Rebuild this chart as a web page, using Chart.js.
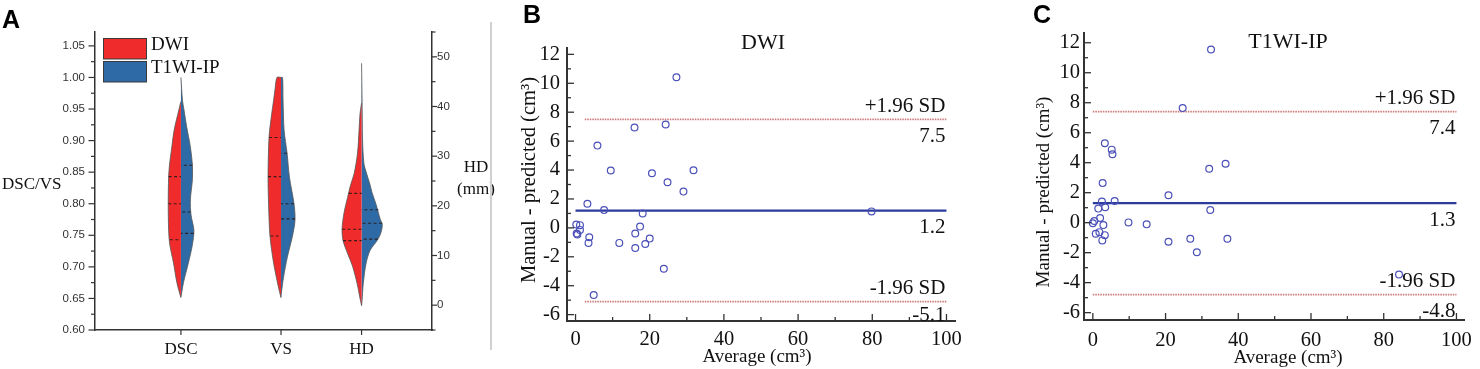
<!DOCTYPE html>
<html>
<head>
<meta charset="utf-8">
<script src="https://cdn.jsdelivr.net/npm/chart.js@4.4.1/dist/chart.umd.min.js"></script>
<style>
  body { margin: 0; background: #fff; }
  #wrap { position: relative; width: 1480px; height: 369px; overflow: hidden; }
  canvas { position: absolute; top: 0; }
  .tag { position: absolute; font: bold 25px "Liberation Sans", Arial, sans-serif; line-height: 25px; color: #000; }
  #sep { position: absolute; left: 490px; top: 22px; width: 1.5px; height: 328px; background: #d0d0d0; }
</style>
</head>
<body>
<div id="wrap">
  <canvas id="violin" width="498" height="369" style="left:0"></canvas>
  <canvas id="baDwi" width="485" height="369" style="left:491px"></canvas>
  <canvas id="baT1" width="504" height="369" style="left:976px"></canvas>
  <div id="sep"></div>
  <div class="tag" style="left:2px;top:7px">A</div>
  <div class="tag" style="left:523px;top:2px">B</div>
  <div class="tag" style="left:1033px;top:2px">C</div>
</div>
<script>
const SERIF = '"Liberation Serif", "Times New Roman", serif';
const SANS = '"Liberation Sans", Arial, sans-serif';

// ---------- panel A : split violins ----------
const categories = ['DSC', 'VS', 'HD'];
const catPos = [2.55, 5.52, 7.91];
const groups = ['DWI', 'T1WI-IP'];
const groupColors = ['#EF2B2B', '#2E6BA6'];

// outline of each half: [value, half width]
const dscDwi = [[0.651,0],[0.675,0.12],[0.706,0.22],[0.735,0.33],[0.758,0.365],[0.801,0.377],[0.842,0.365],[0.861,0.34],[0.890,0.27],[0.917,0.2],[0.949,0.06],[0.962,0]];
const dscT1 = [[0.652,0],[0.675,0.075],[0.706,0.22],[0.735,0.34],[0.758,0.385],[0.782,0.30],[0.806,0.28],[0.838,0.34],[0.861,0.34],[0.890,0.28],[0.922,0.17],[0.949,0.09],[0.964,0.045],[1.000,0]];
const vsDwi = [[0.651,0],[0.671,0.09],[0.703,0.21],[0.735,0.30],[0.758,0.34],[0.801,0.37],[0.842,0.385],[0.906,0.355],[0.941,0.28],[0.964,0.22],[0.980,0.18],[1.000,0.12]];
const vsT1 = [[0.652,0],[0.660,0.015],[0.684,0.075],[0.716,0.19],[0.749,0.34],[0.774,0.415],[0.800,0.385],[0.842,0.25],[0.880,0.18],[0.917,0.09],[0.964,0.06],[1.000,0.045]];
const hdDwi = [[-0.1,0],[1.5,0.05],[4.3,0.13],[7.9,0.27],[10.4,0.415],[13.0,0.55],[15.2,0.58],[18.6,0.52],[21.7,0.415],[24.1,0.33],[26.5,0.22],[30.6,0.12],[35.2,0.075],[38.6,0.045],[40.7,0]];
const hdT1 = [[-0.1,0],[0.9,0.015],[4.3,0.05],[8.3,0.13],[11.0,0.25],[13.0,0.46],[14.4,0.565],[16.2,0.615],[17.4,0.55],[20.3,0.43],[22.7,0.31],[24.4,0.245],[26.5,0.15],[28.5,0.07],[33.2,0.03],[41.3,0.015],[48.7,0]];

// quartile lines: [value, half width]
const dscDwiQ = [[0.743,0.33],[0.800,0.377],[0.843,0.365]];
const dscT1Q = [[0.753,0.375],[0.787,0.29],[0.861,0.34]];
const vsDwiQ = [[0.749,0.32],[0.843,0.385],[0.905,0.355]];
const vsT1Q = [[0.776,0.415],[0.800,0.385],[0.880,0.18]];
const hdDwiQ = [[13.0,0.55],[15.3,0.58],[22.5,0.38]];
const hdT1Q = [[13.3,0.48],[16.5,0.61],[19.2,0.5]];

const leftTicks = [0.60, 0.65, 0.70, 0.75, 0.80, 0.85, 0.90, 0.95, 1.00, 1.05];
const leftMinor = [0.625, 0.675, 0.725, 0.775, 0.825, 0.875, 0.925, 0.975, 1.025];
const rightTicks = [0, 10, 20, 30, 40, 50];
const rightMinor = [-5, 5, 15, 25, 35, 45, 55];

// ---------- panels B, C : Bland-Altman ----------
const bAvg = [27.2, 15.9, 24.3, 5.9, 9.5, 20.6, 31.8, 24.8, 29.1, 3.2, 7.7, 18.1, 79.8, 0.2, 1.2, 1.2, 0.3, 0.5, 17.4, 16.1, 3.7, 3.5, 11.8, 20.0, 18.8, 16.1, 23.8, 4.9];
const bDiff = [10.42, 6.94, 7.15, 5.69, 3.97, 3.78, 3.99, 3.16, 2.51, 1.67, 1.23, 1.0, 1.14, 0.23, 0.19, -0.14, -0.39, -0.46, 0.09, -0.39, -0.65, -1.04, -1.04, -0.74, -1.11, -1.39, -2.83, -4.64];
const bStats = [-5.1, 1.2, 7.5]; // lower, mean, upper

const cAvg = [32.5, 24.7, 3.3, 5.2, 5.4, 32.0, 36.5, 2.7, 20.8, 6.0, 2.5, 1.5, 3.4, 32.3, 2.0, 0.4, 0, 2.9, 9.8, 14.8, 0.8, 1.8, 3.3, 2.6, 20.8, 26.8, 37.0, 28.6, 84.2];
const cDiff = [11.55, 7.64, 5.30, 4.87, 4.56, 3.60, 3.93, 2.64, 1.83, 1.45, 1.41, 0.94, 1.03, 0.85, 0.31, 0.11, -0.04, -0.16, 0.02, -0.11, -0.74, -0.63, -0.83, -1.18, -1.27, -1.07, -1.07, -1.97, -3.46];
const cStats = [-4.8, 1.3, 7.4];

const baXTicks = [0, 20, 40, 60, 80, 100];
const baXMinor = [10, 30, 50, 70, 90];
const baYTicks = [-6, -4, -2, 0, 2, 4, 6, 8, 10, 12];
const baYMinor = [-5, -3, -1, 1, 3, 5, 7, 9, 11];

// ---------- plugins ----------
const tickMarks = {
  id: 'tickMarks',
  afterDraw(chart, args, opts) {
    const ctx = chart.ctx;
    ctx.save();
    ctx.strokeStyle = opts.color || '#333';
    ctx.lineWidth = opts.width || 1;
    (opts.axes || []).forEach(a => {
      const s = chart.scales[a.id];
      const horiz = s.isHorizontal();
      let base, sign;
      if (s.position === 'left') { base = s.right; sign = -1; }
      else if (s.position === 'right') { base = s.left; sign = 1; }
      else { base = s.top; sign = 1; }
      if (a.inward) sign = -sign;
      const draw = (vals, len) => vals.forEach(v => {
        const p = s.getPixelForValue(v);
        ctx.beginPath();
        if (horiz) { ctx.moveTo(p, base); ctx.lineTo(p, base + sign * len); }
        else { ctx.moveTo(base, p); ctx.lineTo(base + sign * len, p); }
        ctx.stroke();
      });
      draw(a.major, a.majorLen);
      draw(a.minor || [], a.minorLen);
    });
    ctx.restore();
  }
};

const panelText = {
  id: 'panelText',
  afterDraw(chart, args, opts) {
    const ctx = chart.ctx;
    (opts.items || []).forEach(t => {
      ctx.save();
      ctx.font = t.font;
      ctx.fillStyle = t.color || '#111';
      ctx.textAlign = t.align || 'center';
      ctx.textBaseline = 'middle';
      ctx.translate(t.x, t.y);
      if (t.rotate) ctx.rotate(t.rotate);
      ctx.fillText(t.text, 0, 0);
      ctx.restore();
    });
  }
};

const violinLegend = {
  id: 'violinLegend',
  afterDraw(chart) {
    const ctx = chart.ctx;
    ctx.save();
    groups.forEach((g, i) => {
      const top = 38.5 + i * 23;
      ctx.fillStyle = groupColors[i];
      ctx.fillRect(103.5, top, 43, 20.5);
      ctx.strokeStyle = '#3a3a3a';
      ctx.lineWidth = 1;
      ctx.strokeRect(103.5, top, 43, 20.5);
      ctx.fillStyle = '#111';
      ctx.font = '19px ' + SERIF;
      ctx.textAlign = 'left';
      ctx.textBaseline = 'middle';
      ctx.fillText(g, 151, top + 6.5);
    });
    ctx.restore();
  }
};

const limitLabels = {
  id: 'limitLabels',
  afterDatasetsDraw(chart, args, opts) {
    const {ctx, scales: {x, y}} = chart;
    const [lower, mean, upper] = opts.values;
    const right = x.getPixelForValue(100) - 1;
    ctx.save();
    ctx.font = '21px ' + SERIF;
    ctx.fillStyle = '#111';
    ctx.textAlign = 'right';
    ctx.textBaseline = 'middle';
    ctx.fillText('+1.96 SD', right, y.getPixelForValue(upper) - 13);
    ctx.fillText(upper.toFixed(1), right, y.getPixelForValue(upper) + 17);
    ctx.fillText(mean.toFixed(1), right, y.getPixelForValue(mean) + 17);
    ctx.fillText('-1.96 SD', right, y.getPixelForValue(lower) - 13);
    ctx.fillText(lower.toFixed(1), right, y.getPixelForValue(lower) + opts.lowerOffset);
    ctx.restore();
  }
};

// ---------- panel A ----------
function halfShape(profile, center, side) {
  const pts = profile.map(([v, w]) => ({x: center + side * w, y: v}));
  if (profile[0][1] > 0) pts.unshift({x: center, y: profile[0][0]});
  const last = profile[profile.length - 1];
  if (last[1] > 0) pts.push({x: center, y: last[0]});
  return pts;
}
function quartileLines(q, center, side) {
  const pts = [];
  q.forEach(([v, w]) => {
    pts.push({x: center + side * w, y: v}, {x: center, y: v}, {x: center, y: null});
  });
  return pts;
}

const halves = [
  {cat: 0, g: 0, prof: dscDwi, q: dscDwiQ, axis: 'y'},
  {cat: 0, g: 1, prof: dscT1, q: dscT1Q, axis: 'y'},
  {cat: 1, g: 0, prof: vsDwi, q: vsDwiQ, axis: 'y'},
  {cat: 1, g: 1, prof: vsT1, q: vsT1Q, axis: 'y'},
  {cat: 2, g: 0, prof: hdDwi, q: hdDwiQ, axis: 'y2'},
  {cat: 2, g: 1, prof: hdT1, q: hdT1Q, axis: 'y2'}
];

const violinSets = [];
halves.forEach(h => {
  const side = h.g === 0 ? -1 : 1;
  violinSets.push({
    data: halfShape(h.prof, catPos[h.cat], side),
    yAxisID: h.axis,
    backgroundColor: groupColors[h.g],
    borderColor: '#555',
    borderWidth: 0.8,
    fill: 'shape',
    tension: 0.3,
    pointRadius: 0,
    order: 2
  });
  violinSets.push({
    data: quartileLines(h.q, catPos[h.cat], side),
    yAxisID: h.axis,
    borderColor: 'rgba(40,25,25,0.9)',
    borderWidth: 1.1,
    borderDash: [3, 2.5],
    fill: false,
    tension: 0,
    pointRadius: 0,
    order: 1
  });
});

const axisA = { display: true, color: '#333', width: 1.5 };
const noGrid = { display: false, drawTicks: false };

new Chart(document.getElementById('violin'), {
  type: 'line',
  data: { datasets: violinSets },
  options: {
    responsive: false,
    animation: false,
    layout: { padding: { top: 32, left: 0, right: 0, bottom: 0 } },
    plugins: {
      legend: { display: false },
      tooltip: { enabled: false },
      tickMarks: {
        color: '#333', width: 1.2,
        axes: [
          { id: 'y', major: leftTicks, minor: leftMinor, majorLen: 6.5, minorLen: 4 },
          { id: 'y2', major: rightTicks, minor: rightMinor, majorLen: 5, minorLen: 3.5 },
          { id: 'x', major: catPos, majorLen: 5 }
        ]
      },
      panelText: {
        items: [
          { text: 'DSC/VS', x: 2, y: 185, font: '17px ' + SERIF, align: 'left' },
          { text: 'HD', x: 476, y: 168, font: '17px ' + SERIF },
          { text: '(mm)', x: 476, y: 190, font: '17px ' + SERIF }
        ]
      }
    },
    scales: {
      x: {
        type: 'linear', min: 0, max: 10,
        afterFit: s => { s.height = 39; },
        afterBuildTicks: s => { s.ticks = catPos.map(v => ({ value: v })); },
        ticks: { callback: (v, i) => categories[i], font: { family: SERIF, size: 17 }, color: '#111', padding: 9.8, autoSkip: false, maxRotation: 0 },
        grid: noGrid, border: axisA
      },
      y: {
        type: 'linear', position: 'left', min: 0.6, max: 1.072,
        afterFit: s => { s.width = 95; },
        afterBuildTicks: s => { s.ticks = leftTicks.map(v => ({ value: v })); },
        ticks: { callback: v => v.toFixed(2), font: { family: SANS, size: 11.5 }, color: '#333', padding: 10 },
        grid: noGrid, border: axisA
      },
      y2: {
        type: 'linear', position: 'right', min: -5, max: 55,
        afterFit: s => { s.width = 66; },
        afterBuildTicks: s => { s.ticks = rightTicks.map(v => ({ value: v })); },
        ticks: { callback: v => String(v), font: { family: SANS, size: 11.5 }, color: '#333', padding: 5 },
        grid: noGrid, border: axisA
      }
    }
  },
  plugins: [tickMarks, panelText, violinLegend]
});

// ---------- panels B and C ----------
function blandAltman(id, avg, diff, stats, cfg) {
  const [lower, mean, upper] = stats;
  const hLine = (v, x0, color, width, dash) => ({
    data: [{ x: x0, y: v }, { x: 100, y: v }],
    showLine: true, borderColor: color, borderWidth: width, borderDash: dash,
    pointRadius: 0, order: 2
  });
  new Chart(document.getElementById(id), {
    type: 'scatter',
    data: {
      datasets: [
        {
          data: avg.map((x, i) => ({ x, y: diff[i] })),
          pointStyle: 'circle', pointRadius: 3.4, pointBorderWidth: 1.2,
          borderColor: '#4B50B8', backgroundColor: 'rgba(0,0,0,0)', order: 0
        },
        hLine(mean, 0, '#2B3C9C', 2.2, []),
        hLine(upper, cfg.limitStart, '#CC7A7A', 1.8, [1.5, 1]),
        hLine(lower, cfg.limitStart, '#CC7A7A', 1.8, [1.5, 1])
      ]
    },
    options: {
      responsive: false,
      animation: false,
      layout: { padding: { top: cfg.top, right: cfg.right, left: 0, bottom: 0 } },
      plugins: {
        legend: { display: false },
        tooltip: { enabled: false },
        limitLabels: { values: stats, lowerOffset: cfg.lowerOffset },
        tickMarks: {
          color: '#333', width: 1.3,
          axes: [
            { id: 'x', major: baXTicks, minor: baXMinor, majorLen: 7, minorLen: 4, inward: true },
            { id: 'y', major: baYTicks, minor: baYMinor, majorLen: 7, minorLen: 4, inward: true }
          ]
        },
        panelText: {
          items: [
            { text: cfg.title, x: cfg.titleX, y: cfg.titleY, font: '22px ' + SERIF },
            { text: 'Manual - predicted (cm\u00B3)', x: cfg.yTitleX, y: cfg.yTitleY, font: cfg.yTitleSize + 'px ' + SERIF, rotate: -Math.PI / 2 },
            { text: 'Average (cm\u00B3)', x: cfg.xTitleX, y: cfg.xTitleY, font: '19px ' + SERIF }
          ]
        }
      },
      scales: {
        x: {
          type: 'linear', min: cfg.xMin, max: cfg.xMax,
          afterFit: s => { s.height = cfg.xHeight; },
          afterBuildTicks: s => { s.ticks = baXTicks.map(v => ({ value: v })); },
          ticks: { font: { family: SERIF, size: 20.5 }, color: '#111', padding: cfg.xPad, maxRotation: 0, autoSkip: false },
          grid: noGrid, border: { display: true, color: '#333', width: 2 }
        },
        y: {
          type: 'linear', min: cfg.yMin, max: cfg.yMax,
          afterFit: s => { s.width = cfg.yWidth; },
          afterBuildTicks: s => { s.ticks = baYTicks.map(v => ({ value: v })); },
          ticks: { font: { family: SERIF, size: 20.5 }, color: '#111', padding: cfg.yPad },
          grid: noGrid, border: { display: true, color: '#333', width: 2 }
        }
      }
    },
    plugins: [tickMarks, panelText, limitLabels]
  });
}

blandAltman('baDwi', bAvg, bDiff, bStats, {
  title: 'DWI', titleX: 272, titleY: 43,
  yTitleX: 39, yTitleY: 180, yTitleSize: 20.5,
  xTitleX: 266, xTitleY: 357,
  top: 48, right: 21, xHeight: 48, yWidth: 76,
  xMin: -2.3, xMax: 102.3, yMin: -6.44, yMax: 12.44,
  xPad: 6.3, yPad: 7, limitStart: 2.5, lowerOffset: 14
});

blandAltman('baT1', cAvg, cDiff, cStats, {
  title: 'T1WI-IP', titleX: 312, titleY: 42,
  yTitleX: 68, yTitleY: 192, yTitleSize: 19,
  xTitleX: 312, xTitleY: 358,
  top: 33, right: 8, xHeight: 49, yWidth: 108,
  xMin: -2.43, xMax: 102.27, yMin: -6.49, yMax: 12.65,
  xPad: 8, yPad: 4, limitStart: 0, lowerOffset: 17
});
</script>
</body>
</html>
